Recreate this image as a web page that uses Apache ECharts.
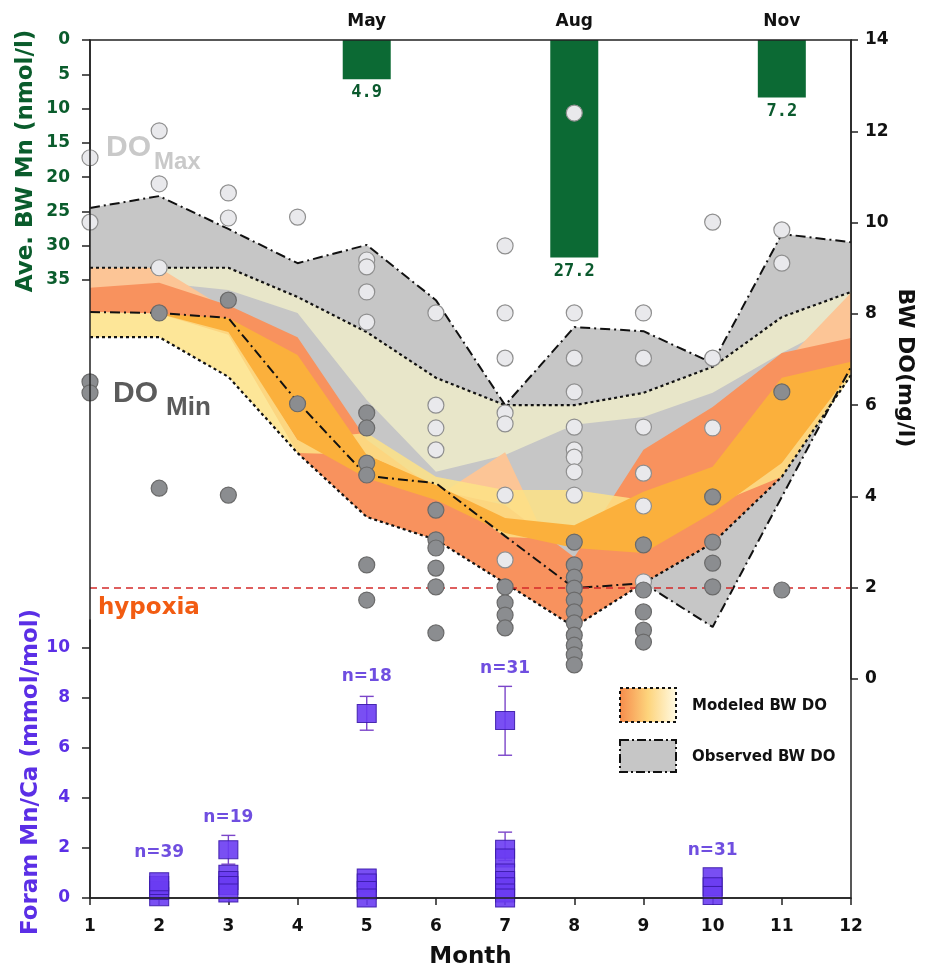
<!DOCTYPE html>
<html>
<head>
<meta charset="utf-8">
<title>BW DO, BW Mn and foram Mn/Ca by month</title>
<script src="https://cdn.jsdelivr.net/npm/echarts@6/dist/echarts.min.js"></script>
<style>
  html, body { margin: 0; padding: 0; background: #fff; }
  #chart { width: 929px; height: 968px; }
</style>
</head>
<body>
<div id="chart"></div>
<script>
// shared month axis
const months = [1, 2, 3, 4, 5, 6, 7, 8, 9, 10, 11, 12];

// top panel: average bottom-water Mn (nmol/l)
const mnMonths = [5, 8, 11];
const mnNames = ['May', 'Aug', 'Nov'];
const mnValues = [4.9, 27.2, 7.2];
const mnTicks = [0, 5, 10, 15, 20, 25, 30, 35];

// observed BW DO envelope (mg/l), dash-dot lines
const obsMax = [10.32, 10.58, 9.86, 9.11, 9.51, 8.30, 6.00, 7.71, 7.62, 6.92, 9.75, 9.57];
const obsMin = [8.04, 8.02, 7.91, 6.07, 4.45, 4.29, 3.13, 1.99, 2.10, 1.14, 3.99, 6.84];

// modeled BW DO envelope (mg/l), dotted lines
const modMax = [9.01, 9.01, 9.01, 8.37, 7.60, 6.60, 6.00, 6.00, 6.27, 6.84, 7.93, 8.48];
const modMin = [7.49, 7.49, 6.62, 4.95, 3.55, 3.05, 2.10, 1.14, 2.10, 2.98, 4.43, 6.66];

// modeled runs inside the envelope (upper / lower edge of each coloured band)
const creamLow  = [8.63, 8.68, 8.52, 8.02, 6.11, 4.54, 4.91, 5.57, 5.74, 6.27, 7.14, 7.93];
const peachTop  = [9.01, 9.01, 8.08, 7.32, 5.13, 3.99, 4.97, 1.73, 4.58, 5.67, 6.88, 8.46];
const peachLow  = [8.30, 8.30, 7.86, 6.99, 4.58, 3.70, 3.92, 1.51, 3.92, 4.80, 6.11, 7.30];
const salmonTop = [8.57, 8.68, 8.19, 7.49, 5.24, 4.14, 3.81, 2.67, 5.02, 5.96, 7.14, 7.47];
const salmonLow = [8.04, 8.00, 7.54, 4.95, 3.55, 3.05, 2.10, 1.14, 2.10, 2.98, 4.43, 6.73];
const yellowTop = [8.04, 8.00, 7.71, 5.24, 5.39, 4.43, 4.14, 4.14, 3.92, 4.03, 5.13, 6.81];
const yellowLow = [7.49, 7.49, 6.62, 4.95, 4.91, 4.21, 3.11, 3.05, 3.48, 3.81, 4.43, 6.62];
const orangeTop = [8.04, 8.00, 7.91, 7.10, 4.91, 4.25, 3.53, 3.37, 4.10, 4.65, 6.60, 6.95];
const orangeLow = [8.04, 8.00, 7.60, 5.24, 4.40, 3.92, 3.20, 2.87, 2.76, 3.64, 4.73, 6.73];

const hypoxiaDO = 2;

// individual DO measurements [month, mg/l]
const doMaxPoints = [
  [1, 11.42], [1, 10.01],
  [2, 12.01], [2, 10.85], [2, 9.01],
  [3, 10.65], [3, 10.10],
  [4, 10.12],
  [5, 9.18], [5, 9.03], [5, 8.48], [5, 7.82],
  [6, 8.02], [6, 6.00], [6, 5.50], [6, 5.02],
  [7, 9.49], [7, 8.02], [7, 7.03], [7, 5.83], [7, 5.59], [7, 4.03], [7, 2.61],
  [8, 12.40], [8, 8.02], [8, 7.03], [8, 6.29], [8, 5.52], [8, 5.02], [8, 4.86], [8, 4.54], [8, 4.03],
  [9, 8.02], [9, 7.03], [9, 5.52], [9, 4.51], [9, 3.79], [9, 2.13],
  [10, 10.01], [10, 7.03], [10, 5.50],
  [11, 9.84], [11, 9.11]
];
const doMinPoints = [
  [1, 6.51], [1, 6.27],
  [2, 8.02], [2, 4.18],
  [3, 8.30], [3, 4.03],
  [4, 6.03],
  [5, 5.83], [5, 5.50], [5, 4.73], [5, 4.47], [5, 2.50], [5, 1.73],
  [6, 3.70], [6, 3.05], [6, 2.87], [6, 2.43], [6, 2.02], [6, 1.01],
  [7, 2.02], [7, 1.67], [7, 1.40], [7, 1.12],
  [8, 3.00], [8, 2.50], [8, 2.23], [8, 1.99], [8, 1.73], [8, 1.47], [8, 1.23], [8, 0.96], [8, 0.74], [8, 0.53], [8, 0.31],
  [9, 2.94], [9, 1.95], [9, 1.47], [9, 1.07], [9, 0.81],
  [10, 3.99], [10, 3.00], [10, 2.54], [10, 2.02],
  [11, 6.29], [11, 1.95]
];

// bottom panel: foram Mn/Ca (mmol/mol)
const foramPoints = [
  [2, 0.05], [2, 0.3], [2, 0.5], [2, 0.65],
  [3, 1.93], [3, 0.95], [3, 0.7], [3, 0.5], [3, 0.2],
  [5, 7.37], [5, 0.8], [5, 0.6], [5, 0.3], [5, 0.0],
  [7, 7.09], [7, 1.95], [7, 1.6], [7, 1.0], [7, 0.7], [7, 0.45], [7, 0.2], [7, 0.0],
  [10, 0.85], [10, 0.45], [10, 0.1]
];
// error bars [month, low, high]
const foramErr = [[3, 1.35, 2.5], [5, 6.7, 8.05], [7, 5.7, 8.45], [7, 1.5, 2.63]];
const foramTicks = [0, 2, 4, 6, 8, 10];
// sample counts and where they sit
const nText = ['n=39', 'n=19', 'n=18', 'n=31', 'n=31'];
const nAnchor = [[2, 1.8], [3, 3.2], [5, 8.85], [7, 9.15], [10, 1.9]];

const FONT = 'DejaVu Sans';
const chart = echarts.init(document.getElementById('chart'));

function pairs(ys) {
  return months.map((m, i) => [m, ys[i]]);
}

// filled polygon between two DO lines, drawn through the DO axes
function band(name, upper, lower, color, opacity) {
  return {
    name: name, type: 'custom', xAxisIndex: 1, yAxisIndex: 2, z: 1, silent: true,
    data: [[months[0], upper[0]]],
    renderItem: function (params, api) {
      const pts = [];
      for (let i = 0; i < months.length; i++) pts.push(api.coord([months[i], upper[i]]));
      for (let i = months.length - 1; i >= 0; i--) pts.push(api.coord([months[i], lower[i]]));
      return { type: 'polygon', shape: { points: pts }, style: { fill: color, opacity: opacity } };
    }
  };
}

function envLine(name, ys, dash, width) {
  return {
    name: name, type: 'line', xAxisIndex: 1, yAxisIndex: 2, z: 3, silent: true,
    data: pairs(ys), symbol: 'none',
    lineStyle: { color: '#111', width: width, type: dash }
  };
}

const dashDot = [10, 4, 2, 4];
const dotted = [3, 3];

chart.setOption({
  animation: false,
  backgroundColor: '#fff',
  grid: [
    { left: 90, right: 78, top: 40, height: 240, outerBoundsMode: 'none' },   // BW Mn
    { left: 90, right: 78, top: 40, height: 639, outerBoundsMode: 'none' },   // BW DO
    { left: 90, right: 78, top: 620, height: 278, outerBoundsMode: 'none' },  // foram Mn/Ca
    { left: 90, right: 78, top: 40, height: 858, outerBoundsMode: 'none', show: true, borderColor: '#222', borderWidth: 1.5, z: 10 }
  ],
  xAxis: [
    {
      gridIndex: 0, type: 'value', min: 1, max: 12, interval: 1, position: 'top',
      axisLine: { show: false }, axisTick: { show: false }, splitLine: { show: false },
      axisLabel: {
        customValues: mnMonths, margin: 10,
        formatter: v => { const i = mnMonths.indexOf(v); return i >= 0 ? mnNames[i] : ''; },
        color: '#111', fontWeight: 'bold', fontSize: 17, fontFamily: FONT
      }
    },
    { gridIndex: 1, type: 'value', min: 1, max: 12, show: false },
    {
      gridIndex: 2, type: 'value', min: 1, max: 12, interval: 1, position: 'bottom',
      axisLine: { lineStyle: { color: '#222', width: 1.5 } },
      axisTick: { length: 7, lineStyle: { color: '#222', width: 1.5 } },
      splitLine: { show: false },
      axisLabel: { margin: 20, color: '#111', fontWeight: 'bold', fontSize: 17, fontFamily: FONT },
      name: 'Month', nameLocation: 'middle', nameGap: 48,
      nameTextStyle: { color: '#111', fontWeight: 'bold', fontSize: 23, fontFamily: FONT }
    },
    { gridIndex: 3, type: 'value', min: 1, max: 12, show: false }
  ],
  yAxis: [
    {
      gridIndex: 0, type: 'value', inverse: true, min: 0, max: 35, interval: 5, position: 'left',
      axisLine: { show: true, lineStyle: { color: '#222', width: 1.5 } },
      axisTick: { show: true, length: 8, lineStyle: { color: '#222', width: 1.5 } },
      splitLine: { show: false },
      axisLabel: { customValues: mnTicks, margin: 20, color: '#0a5c2c', fontWeight: 'bold', fontSize: 17, fontFamily: FONT }
    },
    { gridIndex: 0, type: 'value', inverse: true, min: 0, max: 30, show: false },
    {
      gridIndex: 1, type: 'value', min: 0, max: 14, interval: 2, position: 'right',
      axisLine: { show: true, lineStyle: { color: '#222', width: 1.5 } },
      axisTick: { show: true, length: 7, lineStyle: { color: '#222', width: 1.5 } },
      splitLine: { show: false },
      axisLabel: { margin: 14, color: '#111', fontWeight: 'bold', fontSize: 17, fontFamily: FONT }
    },
    {
      gridIndex: 2, type: 'value', min: 0, max: 11.1, interval: 2, position: 'left',
      axisLine: { show: true, lineStyle: { color: '#222', width: 1.5 } },
      axisTick: { show: true, length: 8, customValues: foramTicks, lineStyle: { color: '#222', width: 1.5 } },
      splitLine: { show: false },
      axisLabel: {
        customValues: foramTicks, margin: 20,
        formatter: v => (v % 2 === 0 && v <= 10) ? String(v) : '',
        color: '#5b2fe6', fontWeight: 'bold', fontSize: 17, fontFamily: FONT
      }
    },
    { gridIndex: 3, type: 'value', min: 0, max: 1, show: false }
  ],
  series: [
    // Ave. BW Mn bars hanging from the top edge
    {
      name: 'Ave. BW Mn', type: 'bar', xAxisIndex: 0, yAxisIndex: 1, z: 2, silent: true,
      data: mnMonths.map((m, i) => [m, mnValues[i]]),
      barWidth: 48,
      itemStyle: { color: '#0c6a34' },
      label: {
        show: true, position: 'bottom', distance: 5,
        formatter: p => p.value[1].toFixed(1),
        color: '#0b5a2e', fontWeight: 'bold', fontSize: 17, fontFamily: 'DejaVu Sans Mono'
      }
    },
    // observed and modeled DO bands
    band('Observed BW DO', obsMax, obsMin, '#c6c6c6', 1),
    band('Modeled cream', modMax, creamLow, '#e8e6c9', 1),
    band('Modeled peach', peachTop, peachLow, '#fcc596', 1),
    band('Modeled salmon', salmonTop, salmonLow, '#f8925e', 1),
    band('Modeled yellow', yellowTop, yellowLow, '#fde286', 0.85),
    band('Modeled orange', orangeTop, orangeLow, '#fbb03c', 1),
    envLine('Observed max', obsMax, dashDot, 2),
    envLine('Observed min', obsMin, dashDot, 2),
    envLine('Modeled max', modMax, dotted, 2.2),
    Object.assign(envLine('Modeled min', modMin, dotted, 2.2), {
      markLine: {
        silent: true, symbol: ['none', 'none'], label: { show: false },
        lineStyle: { color: '#d42a2a', type: [7, 5], width: 1.5 },
        data: [{ yAxis: hypoxiaDO }]
      }
    }),
    {
      name: 'DO max', type: 'scatter', xAxisIndex: 1, yAxisIndex: 2, z: 5, silent: true,
      data: doMaxPoints, symbolSize: 16,
      itemStyle: { color: '#e9e9ec', borderColor: '#8f8f8f', borderWidth: 1.2, opacity: 1 }
    },
    {
      name: 'DO min', type: 'scatter', xAxisIndex: 1, yAxisIndex: 2, z: 5, silent: true,
      data: doMinPoints, symbolSize: 16,
      itemStyle: { color: '#8b8d90', borderColor: '#6a6a6a', borderWidth: 1.2, opacity: 1 }
    },
    // foram Mn/Ca error bars
    {
      name: 'Foram err', type: 'custom', xAxisIndex: 2, yAxisIndex: 3, z: 4, silent: true,
      data: foramErr,
      renderItem: function (params, api) {
        const lo = api.coord([api.value(0), api.value(1)]);
        const hi = api.coord([api.value(0), api.value(2)]);
        const w = 7;
        const st = { stroke: '#7b45c9', lineWidth: 1.4 };
        return {
          type: 'group', children: [
            { type: 'line', shape: { x1: lo[0], y1: lo[1], x2: hi[0], y2: hi[1] }, style: st },
            { type: 'line', shape: { x1: lo[0] - w, y1: lo[1], x2: lo[0] + w, y2: lo[1] }, style: st },
            { type: 'line', shape: { x1: hi[0] - w, y1: hi[1], x2: hi[0] + w, y2: hi[1] }, style: st }
          ]
        };
      }
    },
    {
      name: 'Foram Mn/Ca', type: 'scatter', xAxisIndex: 2, yAxisIndex: 3, z: 5, silent: true,
      data: foramPoints, symbol: 'rect', symbolSize: [19, 18],
      itemStyle: { color: '#6a3cf2', borderColor: '#3a1aa8', borderWidth: 1, opacity: 0.9 }
    },
    {
      name: 'n', type: 'scatter', xAxisIndex: 2, yAxisIndex: 3, z: 6, silent: true,
      symbolSize: 1, itemStyle: { color: 'rgba(0,0,0,0)' },
      data: nAnchor.map((p, i) => ({ value: p, label: { formatter: nText[i] } })),
      label: { show: true, position: 'inside', color: '#4b22d8', fontWeight: 'bold', fontSize: 17, fontFamily: FONT }
    }
  ],
  graphic: [
    {
      type: 'text', x: 26, y: 161, rotation: Math.PI / 2, z: 20,
      style: { text: 'Ave. BW Mn (nmol/l)', fill: '#0a5c2c', fontSize: 23, fontWeight: 'bold', fontFamily: FONT, align: 'center', verticalAlign: 'middle' }
    },
    {
      type: 'text', x: 31, y: 772, rotation: Math.PI / 2, z: 20,
      style: { text: 'Foram Mn/Ca (mmol/mol)', fill: '#5b2fe6', fontSize: 23, fontWeight: 'bold', fontFamily: FONT, align: 'center', verticalAlign: 'middle' }
    },
    {
      type: 'text', x: 905, y: 368, rotation: -Math.PI / 2, z: 20,
      style: { text: 'BW DO(mg/l)', fill: '#111', fontSize: 22, fontWeight: 'bold', fontFamily: FONT, align: 'center', verticalAlign: 'middle' }
    },
    {
      type: 'text', x: 106, y: 148, z: 20,
      style: { text: 'DO', fill: '#c9c9c9', fontSize: 30, fontWeight: 'bold', fontFamily: 'Liberation Sans', verticalAlign: 'middle' }
    },
    {
      type: 'text', x: 154, y: 162, z: 20,
      style: { text: 'Max', fill: '#c9c9c9', fontSize: 24, fontWeight: 'bold', fontFamily: 'Liberation Sans', verticalAlign: 'middle' }
    },
    {
      type: 'text', x: 113, y: 394, z: 20,
      style: { text: 'DO', fill: '#5b5b5b', fontSize: 30, fontWeight: 'bold', fontFamily: 'Liberation Sans', verticalAlign: 'middle' }
    },
    {
      type: 'text', x: 166, y: 408, z: 20,
      style: { text: 'Min', fill: '#5b5b5b', fontSize: 26, fontWeight: 'bold', fontFamily: 'Liberation Sans', verticalAlign: 'middle' }
    },
    {
      type: 'text', x: 98, y: 608, z: 20,
      style: { text: 'hypoxia', fill: '#f25c12', fontSize: 23, fontWeight: 'bold', fontFamily: FONT, verticalAlign: 'middle' }
    },
    // legend
    {
      type: 'rect', z: 20, shape: { x: 620, y: 688, width: 56, height: 34 },
      style: {
        fill: new echarts.graphic.LinearGradient(0, 0, 1, 0, [
          { offset: 0, color: '#f68a4b' }, { offset: 0.5, color: '#fdd47c' }, { offset: 1, color: '#fffbe6' }
        ]),
        stroke: '#111', lineWidth: 2, lineDash: [3, 3]
      }
    },
    {
      type: 'text', x: 692, y: 706, z: 20,
      style: { text: 'Modeled BW DO', fill: '#111', fontSize: 15, fontWeight: 'bold', fontFamily: FONT, verticalAlign: 'middle' }
    },
    {
      type: 'rect', z: 20, shape: { x: 620, y: 740, width: 56, height: 32 },
      style: { fill: '#c6c6c6', stroke: '#111', lineWidth: 2, lineDash: [9, 3, 2, 3] }
    },
    {
      type: 'text', x: 692, y: 757, z: 20,
      style: { text: 'Observed BW DO', fill: '#111', fontSize: 15, fontWeight: 'bold', fontFamily: FONT, verticalAlign: 'middle' }
    }
  ]
});
</script>
</body>
</html>
